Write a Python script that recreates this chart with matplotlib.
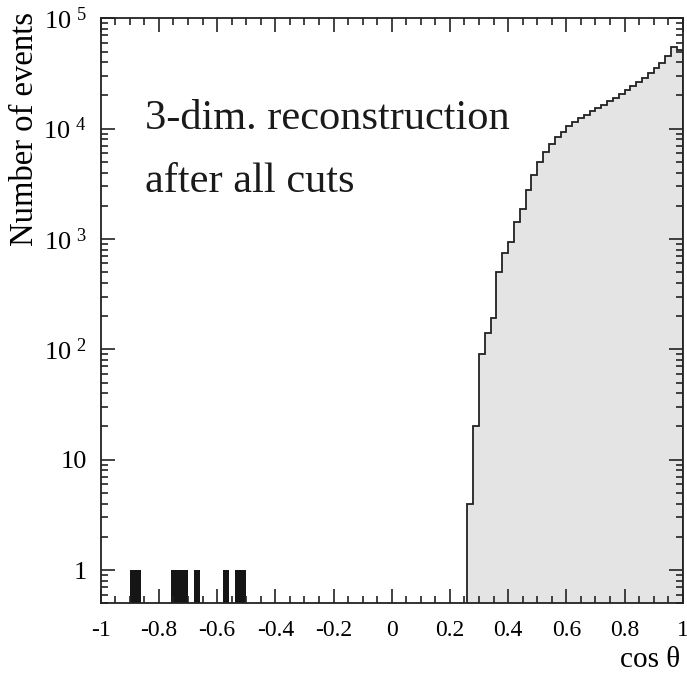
import numpy as np
import matplotlib
matplotlib.use('Agg')
from matplotlib import pyplot as plt
from matplotlib import ticker as mticker

plt.rcParams['font.family'] = ['Liberation Serif', 'DejaVu Serif']
plt.rcParams['mathtext.fontset'] = 'custom'
plt.rcParams['mathtext.rm'] = 'Liberation Serif'

# histogram of cos(theta), bins of 0.02
bin_width = 0.02
first_edge = 0.26
pos_counts = [4, 20, 90, 140, 194, 498, 740, 935, 1420, 1875, 2790,
              3800, 5000, 6100, 7300, 8400, 9400, 10500, 11500, 12500,
              13400, 14400, 15500, 16500, 17700, 19100, 20800, 22600,
              24500, 26700, 29000, 32000, 35500, 39600, 46000, 54500, 52000]
# single events in the backward hemisphere
neg_left_edges = [-0.90, -0.88, -0.76, -0.74, -0.72, -0.68, -0.58, -0.54, -0.52]
neg_counts = [1, 1, 1, 1, 1, 1, 1, 1, 1]

xtick_vals = [-1, -0.8, -0.6, -0.4, -0.2, 0, 0.2, 0.4, 0.6, 0.8, 1]
xtick_labels = ['-1', '-0.8', '-0.6', '-0.4', '-0.2', '0', '0.2', '0.4', '0.6', '0.8', '1']
ytick_vals = [1, 10, 1e2, 1e3, 1e4, 1e5]
ytick_labels = ['1', '10', r'$\mathregular{10^{\ 2}}$', r'$\mathregular{10^{\ 3}}$',
                r'$\mathregular{10^{\ 4}}$', r'$\mathregular{10^{\ 5}}$']

edges = first_edge + bin_width * np.arange(len(pos_counts) + 1)

fig = plt.figure(figsize=(6.87, 6.85), dpi=100)
ax = fig.add_axes([0.1466, 0.1193, 0.8472, 0.854])

ax.stairs(pos_counts, edges, baseline=1e-3, fill=True, color='#e4e4e4', lw=0)
ax.stairs(pos_counts, edges, baseline=1e-3, color='#222222', lw=1.3)
ax.bar(neg_left_edges, neg_counts, width=bin_width, align='edge', color='#151515')

ax.set_yscale('log')
ax.set_xlim(-1, 1)
ax.set_ylim(0.5, 1e5)

ax.set_xticks(xtick_vals, xtick_labels)
ax.xaxis.set_minor_locator(mticker.MultipleLocator(0.05))
ax.set_yticks(ytick_vals, ytick_labels)
ax.yaxis.set_minor_locator(mticker.LogLocator(base=10, subs=np.arange(2, 10)))
ax.yaxis.set_minor_formatter(mticker.NullFormatter())

ax.tick_params(which='both', direction='in', top=True, right=True,
               width=1.2, color='#222222')
ax.tick_params(which='major', length=10)
ax.tick_params(which='minor', length=5)
ax.tick_params(axis='x', which='major', pad=12, labelsize=17)
ax.tick_params(axis='y', which='major', pad=10, labelsize=19)
for s in ax.spines.values():
    s.set_linewidth(1.3)
    s.set_color('#222222')

ax.text(0.076, 0.811, '3-dim. reconstruction', transform=ax.transAxes,
        fontsize=30.5, va='baseline', ha='left', color='#1a1a1a')
ax.text(0.076, 0.703, 'after all cuts', transform=ax.transAxes,
        fontsize=30.5, va='baseline', ha='left', color='#1a1a1a')

ax.set_ylabel('Number of events', fontsize=23.5, va='center')
ax.yaxis.set_label_coords(-0.13, 0.81)
ax.set_xlabel('cos θ', fontsize=21, va='center')
ax.xaxis.set_label_coords(0.944, -0.097)

fig.savefig('out.png', dpi=100)
